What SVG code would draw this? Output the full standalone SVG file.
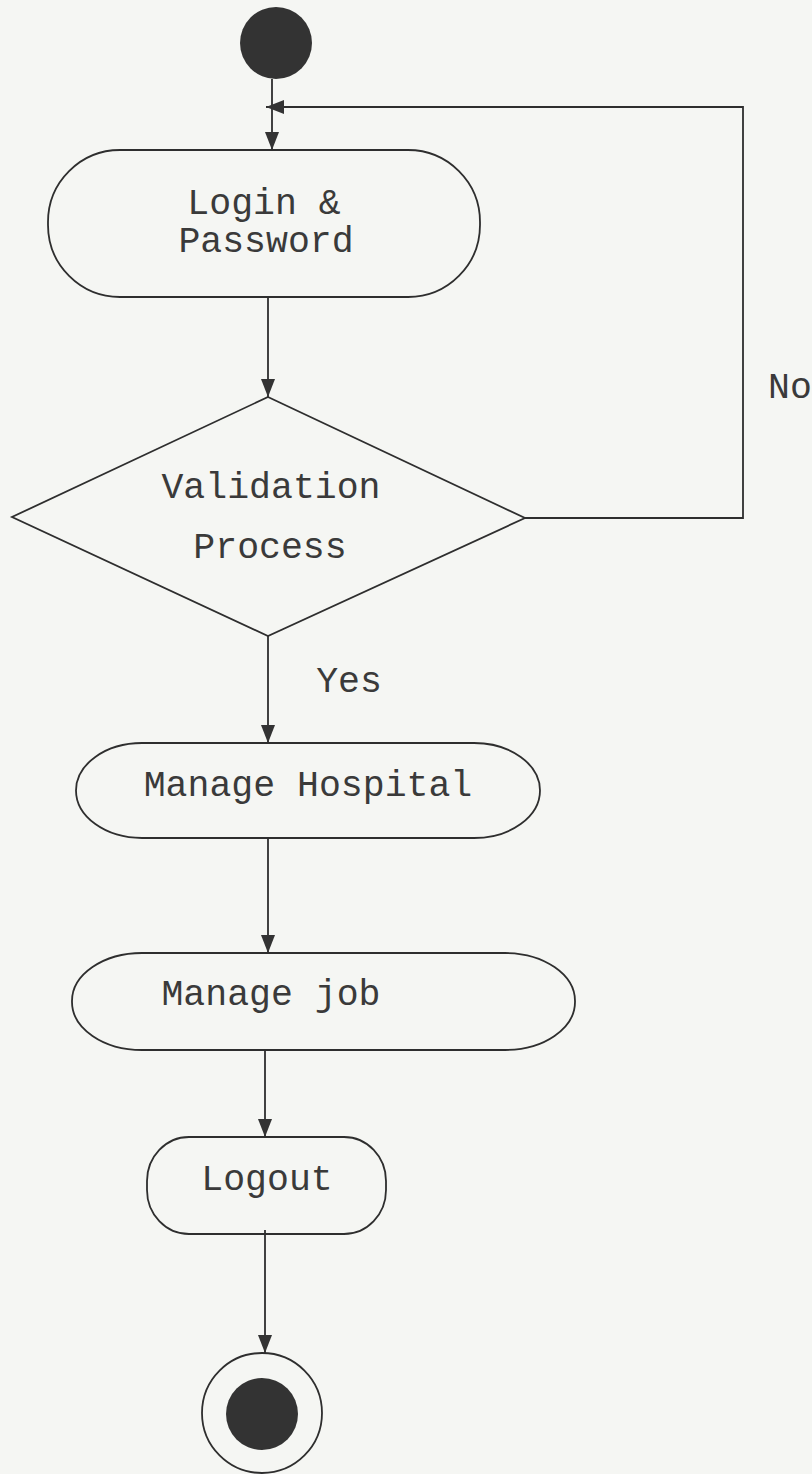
<svg xmlns="http://www.w3.org/2000/svg" width="812" height="1474" viewBox="0 0 812 1474">
<defs>
<style>
.shape{fill:none;stroke:#2e2e2e;stroke-width:1.8}
.edge{fill:none;stroke:#2e2e2e;stroke-width:1.8}
.lbl{font-family:"Liberation Mono","Courier New",monospace;font-size:36.5px;fill:#3a3a3a;text-anchor:middle}
.dot{fill:#333}
</style>
<marker id="arr" viewBox="0 0 18 14" refX="18" refY="7" markerWidth="18" markerHeight="14" markerUnits="userSpaceOnUse" orient="auto">
<path d="M0,0 L18,7 L0,14 Z" fill="#333"/>
</marker>
</defs>
<rect x="0" y="0" width="812" height="1474" fill="#f5f6f3"/>
<g id="start"><circle class="dot" cx="276" cy="43" r="36"/></g>
<g id="login">
<rect class="shape" x="48" y="150" width="432" height="147" rx="72" ry="72"/>
<text class="lbl" x="264" y="214">Login &amp;</text>
<text class="lbl" x="266" y="252">Password</text>
</g>
<g id="validation">
<polygon class="shape" points="268,397 525,518 268,636 12,517"/>
<text class="lbl" x="271" y="498">Validation</text>
<text class="lbl" x="270" y="558">Process</text>
</g>
<g id="manage-hospital">
<rect class="shape" x="76" y="743" width="464" height="95" rx="66" ry="48"/>
<text class="lbl" x="308" y="796">Manage Hospital</text>
</g>
<g id="manage-job">
<rect class="shape" x="72" y="953" width="503" height="97" rx="70" ry="48"/>
<text class="lbl" x="271" y="1005">Manage job</text>
</g>
<g id="logout">
<rect class="shape" x="147" y="1137" width="239" height="97" rx="42" ry="44"/>
<text class="lbl" x="267" y="1190">Logout</text>
</g>
<g id="end">
<circle class="shape" cx="262" cy="1413" r="60"/>
<circle class="dot" cx="262" cy="1414" r="36"/>
</g>
<g id="connectors">
<line class="edge" x1="272" y1="79" x2="272" y2="150" marker-end="url(#arr)"/>
<polyline class="edge" points="525,518 743,518 743,107 266,107" marker-end="url(#arr)"/>
<line class="edge" x1="268" y1="297" x2="268" y2="397" marker-end="url(#arr)"/>
<line class="edge" x1="268" y1="636" x2="268" y2="743" marker-end="url(#arr)"/>
<line class="edge" x1="268" y1="838" x2="268" y2="953" marker-end="url(#arr)"/>
<line class="edge" x1="265" y1="1050" x2="265" y2="1137" marker-end="url(#arr)"/>
<line class="edge" x1="265" y1="1230" x2="265" y2="1353" marker-end="url(#arr)"/>
<text class="lbl" x="790" y="398">No</text>
<text class="lbl" x="349" y="692">Yes</text>
</g>
</svg>
